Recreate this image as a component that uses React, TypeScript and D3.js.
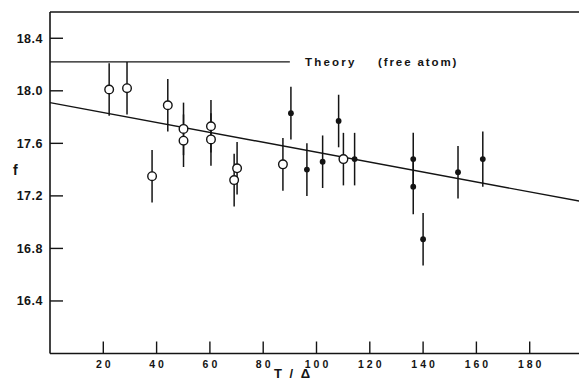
import { useRef, useEffect } from 'react';
import * as d3 from 'd3';

// open circles
const openT = [22.2, 28.9, 38.3, 44.2, 50.1, 50.1, 60.4, 60.4, 69.1, 70.2, 87.4, 110.1];
const openF = [18.01, 18.02, 17.35, 17.89, 17.71, 17.62, 17.73, 17.63, 17.32, 17.41, 17.44, 17.48];
const openErr = [0.2, 0.2, 0.2, 0.2, 0.2, 0.2, 0.2, 0.2, 0.2, 0.2, 0.2, 0.2];

// filled dots
const filledT = [90.4, 96.4, 102.3, 108.3, 114.3, 136.3, 136.3, 140.0, 153.1, 162.4];
const filledF = [17.83, 17.40, 17.46, 17.77, 17.48, 17.48, 17.27, 16.87, 17.38, 17.48];
const filledErr = [0.2, 0.2, 0.2, 0.2, 0.2, 0.2, 0.21, 0.2, 0.2, 0.21];

// fitted line and theory value
const fitT = [0, 200];
const fitF = [17.91, 17.155];
const theoryT = [0, 90];
const theoryF = 18.22;

const xTicks = [20, 40, 60, 80, 100, 120, 140, 160, 180];
const yTicks = [16.4, 16.8, 17.2, 17.6, 18.0, 18.4];

export default function App() {
    const svgRef = useRef<SVGSVGElement>(null);

    useEffect(() => {
        if (!svgRef.current) return;
        const width = 579;
        const height = 383;
        const ink = '#141414';
        const font = '"Liberation Sans", Arial, sans-serif';

        d3.select(svgRef.current).selectAll('*').remove();
        const svg = d3.select(svgRef.current)
            .attr('width', width)
            .attr('height', height);

        const x = d3.scaleLinear().domain([0, 200]).range([50, 583]);
        const y = d3.scaleLinear().domain([16.0, 18.6]).range([353.5, 12]);

        // frame: top line, left axis, bottom axis
        svg.append('line')
            .attr('x1', x(0)).attr('x2', width)
            .attr('y1', y(18.6)).attr('y2', y(18.6))
            .attr('stroke', ink).attr('stroke-width', 1.6);
        svg.append('line')
            .attr('x1', x(0)).attr('x2', x(0))
            .attr('y1', y(18.6)).attr('y2', y(16.0))
            .attr('stroke', ink).attr('stroke-width', 1.6);
        svg.append('line')
            .attr('x1', x(0)).attr('x2', width)
            .attr('y1', y(16.0)).attr('y2', y(16.0))
            .attr('stroke', ink).attr('stroke-width', 1.6);

        // Y ticks (inward)
        const yg = svg.append('g');
        yTicks.forEach(t => {
            yg.append('line')
                .attr('x1', x(0)).attr('x2', x(0) + 13)
                .attr('y1', y(t)).attr('y2', y(t))
                .attr('stroke', ink).attr('stroke-width', 1.4);
            yg.append('text')
                .attr('x', 43)
                .attr('y', y(t))
                .attr('dy', '0.36em')
                .attr('text-anchor', 'end')
                .attr('fill', ink)
                .style('font-family', font)
                .style('font-size', '12.5px')
                .style('font-weight', 'bold')
                .style('letter-spacing', '0.5px')
                .text(t.toFixed(1));
        });

        // X ticks (inward)
        const xg = svg.append('g');
        xTicks.forEach(t => {
            xg.append('line')
                .attr('x1', x(t)).attr('x2', x(t))
                .attr('y1', y(16.0)).attr('y2', y(16.0) - 12)
                .attr('stroke', ink).attr('stroke-width', 1.4);
            xg.append('text')
                .attr('x', x(t) + 1.5)
                .attr('y', 367.5)
                .attr('text-anchor', 'middle')
                .attr('fill', ink)
                .style('font-family', font)
                .style('font-size', '10.5px')
                .style('font-weight', 'bold')
                .style('letter-spacing', '3px')
                .text(t);
        });

        // axis titles
        svg.append('text')
            .attr('x', 13).attr('y', 175)
            .attr('fill', ink)
            .style('font-family', font)
            .style('font-size', '14px')
            .style('font-weight', 'bold')
            .text('f');
        svg.append('text')
            .attr('x', 293).attr('y', 377.5)
            .attr('text-anchor', 'middle')
            .attr('fill', ink)
            .style('font-family', font)
            .style('font-size', '13px')
            .style('font-weight', 'bold')
            .style('letter-spacing', '2px')
            .text('T / Δ');

        // theory line
        svg.append('line')
            .attr('x1', x(theoryT[0])).attr('x2', x(theoryT[1]))
            .attr('y1', y(theoryF)).attr('y2', y(theoryF))
            .attr('stroke', ink).attr('stroke-width', 1.3);
        svg.append('text')
            .attr('x', 305).attr('y', 65.5)
            .attr('fill', ink)
            .style('font-family', font)
            .style('font-size', '11.5px')
            .style('font-weight', 'bold')
            .style('letter-spacing', '2.2px')
            .text('Theory');
        svg.append('text')
            .attr('x', 378).attr('y', 65.5)
            .attr('fill', ink)
            .style('font-family', font)
            .style('font-size', '11.5px')
            .style('font-weight', 'bold')
            .style('letter-spacing', '1.9px')
            .text('(free atom)');

        // fit line
        const fit = fitT.map((t, i) => [t, fitF[i]] as [number, number]);
        svg.append('path')
            .attr('d', d3.line<[number, number]>().x(d => x(d[0])).y(d => y(d[1]))(fit) || '')
            .attr('fill', 'none')
            .attr('stroke', ink)
            .attr('stroke-width', 1.4);

        // error bars
        const bars = [
            ...openT.map((t, i) => ({ t, f: openF[i], e: openErr[i] })),
            ...filledT.map((t, i) => ({ t, f: filledF[i], e: filledErr[i] })),
        ];
        svg.append('g').selectAll('line')
            .data(bars)
            .enter()
            .append('line')
            .attr('x1', d => x(d.t)).attr('x2', d => x(d.t))
            .attr('y1', d => y(d.f + d.e)).attr('y2', d => y(d.f - d.e))
            .attr('stroke', ink)
            .attr('stroke-width', 1.5);

        // filled dots
        svg.append('g').selectAll('circle')
            .data(filledT.map((t, i) => ({ t, f: filledF[i] })))
            .enter()
            .append('circle')
            .attr('cx', d => x(d.t))
            .attr('cy', d => y(d.f))
            .attr('r', 2.9)
            .attr('fill', ink);

        // open circles
        svg.append('g').selectAll('circle')
            .data(openT.map((t, i) => ({ t, f: openF[i] })))
            .enter()
            .append('circle')
            .attr('cx', d => x(d.t))
            .attr('cy', d => y(d.f))
            .attr('r', 4.3)
            .attr('fill', '#fff')
            .attr('stroke', ink)
            .attr('stroke-width', 1.4);
    }, []);

    return (
        <div style={{ position: 'absolute', left: 0, top: 0, background: '#fff' }}>
            <svg ref={svgRef} style={{ display: 'block' }}></svg>
        </div>
    );
}
